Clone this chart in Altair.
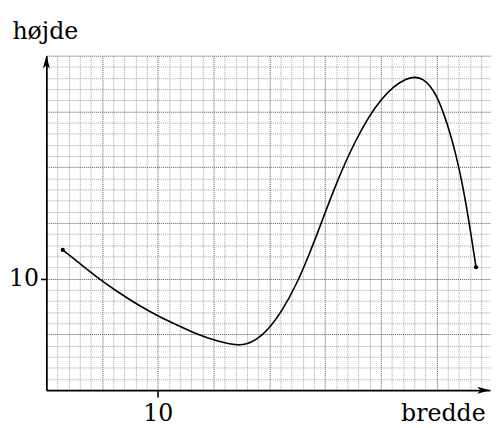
import altair as alt
import pandas as pd

# curve (bredde -> højde)
bredde = [1.47, 2.94, 4.70, 6.47, 8.23, 10.0, 11.77, 13.53, 15.30, 17.06, 17.95,
          18.83, 20.0, 21.2, 22.4, 23.6, 24.7, 25.8, 26.8, 27.8, 28.9,
          30.0, 31.18, 32.36, 33.1, 33.83, 34.42, 35.0, 35.6, 36.19, 36.77,
          37.3, 37.75, 38.15, 38.54]
hojde = [12.58, 11.41, 10.0, 8.76, 7.64, 6.65, 5.82, 5.0, 4.40, 4.02, 4.11,
         4.49, 5.52, 7.2, 9.4, 12.2, 15.1, 18.0, 20.4, 22.5, 24.5,
         26.05, 27.3, 27.97, 28.12, 27.88, 27.3, 26.42, 24.94, 23.18, 21.0,
         18.6, 16.1, 13.6, 11.03]

X_MAX = 39.8
Y_MAX = 30
x_grid = list(range(1, 40))
y_grid = list(range(1, 31))

curve = pd.DataFrame({"bredde": bredde, "hojde": hojde})
ends = curve.iloc[[0, -1]]
x_arrow = pd.DataFrame({"bredde": [X_MAX], "hojde": [0]})
y_arrow = pd.DataFrame({"bredde": [0], "hojde": [Y_MAX]})

FONT = "DejaVu Serif"
FS = 24
grid_color = {"condition": {"test": "datum.value % 5 === 0", "value": "#555555"},
              "value": "#a0a0a0"}
tick_op = {"condition": {"test": "datum.value == 10", "value": 1}, "value": 0}
lab_expr = "datum.value == 10 ? '10' : ''"

xaxis = alt.Axis(values=x_grid, grid=True, gridColor=grid_color, gridDash=[1, 1],
                 gridWidth=1, domain=True, domainColor="black", domainWidth=1.8,
                 ticks=True, tickColor="black", tickWidth=1.6, tickSize=7,
                 tickOpacity=tick_op, labelExpr=lab_expr, labelFont=FONT,
                 labelFontSize=FS, labelColor="black", labelPadding=23.5,
                 labelBaseline="alphabetic", labelOverlap=False, labelFlush=False,
                 title="bredde", titleFont=FONT, titleFontSize=FS,
                 titleFontWeight="normal", titleColor="black", titleX=446,
                 titleY=30.5, titleAlign="right", titleBaseline="alphabetic")
yaxis = alt.Axis(values=y_grid, grid=True, gridColor=grid_color, gridDash=[1, 1],
                 gridWidth=1, domain=True, domainColor="black", domainWidth=1.8,
                 ticks=True, tickColor="black", tickWidth=1.6, tickSize=6,
                 tickOpacity=tick_op, labelExpr=lab_expr, labelFont=FONT,
                 labelFontSize=FS, labelColor="black", labelPadding=2,
                 labelBaseline="middle", labelOverlap=False, labelFlush=False,
                 title="højde", titleFont=FONT, titleFontSize=FS,
                 titleFontWeight="normal", titleColor="black", titleAngle=0,
                 titleX=-35, titleY=-17.6, titleAlign="left",
                 titleBaseline="alphabetic")

xs = alt.Scale(domain=[0, X_MAX], nice=False, zero=False)
ys = alt.Scale(domain=[0, Y_MAX], nice=False, zero=False)
X = alt.X("bredde:Q", scale=xs, axis=xaxis)
Y = alt.Y("hojde:Q", scale=ys, axis=yaxis)

line = alt.Chart(curve).mark_line(color="black", strokeWidth=1.6,
                                  interpolate="basis").encode(x=X, y=Y)
dots = alt.Chart(ends).mark_point(filled=True, color="black", size=18,
                                  opacity=1).encode(x=X, y=Y)
xa = alt.Chart(x_arrow).mark_point(
    shape="M 0 0 L -2 -0.55 L -1.5 0 L -2 0.55 Z", filled=True, color="black",
    size=169, opacity=1).encode(x=X, y=Y)
ya = alt.Chart(y_arrow).mark_point(
    shape="M 0 0 L -0.55 2 L 0 1.5 L 0.55 2 Z", filled=True, color="black",
    size=169, opacity=1).encode(x=X, y=Y)

chart = alt.layer(line, dots, xa, ya).properties(
    width=451, height=340,
    padding={"left": 39, "top": 45, "right": 2, "bottom": 35},
    autosize=alt.AutoSizeParams(type="none"),
    background="white",
).configure_view(stroke=None)

chart.save("out.html", embed_options={"renderer": "svg", "actions": False})
